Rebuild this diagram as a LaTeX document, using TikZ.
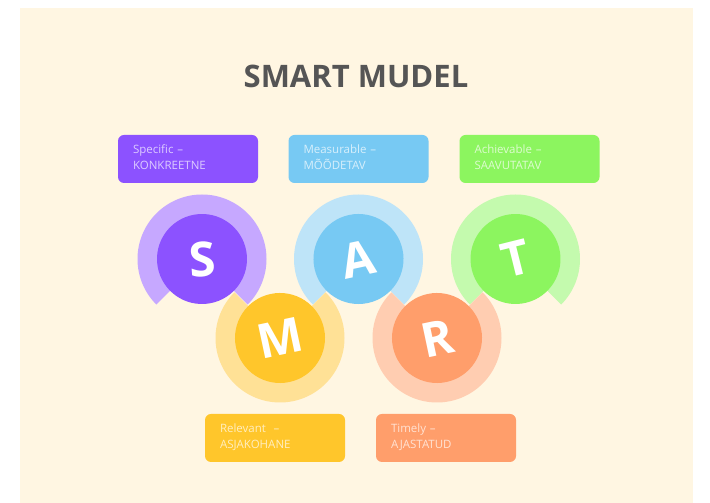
\documentclass[tikz,border=0pt]{standalone}
\usepackage{fontspec}
\usepackage{tikz}
\setmainfont{Open Sans}
\definecolor{pageCream}{HTML}{FFF6E2}
\definecolor{titleGrey}{HTML}{555555}
\definecolor{sDark}{HTML}{8C52FF}
\definecolor{sLight}{HTML}{C6A8FF}
\definecolor{aDark}{HTML}{77C9F3}
\definecolor{aLight}{HTML}{BEE4F8}
\definecolor{tDark}{HTML}{8CF55F}
\definecolor{tLight}{HTML}{C4FAAE}
\definecolor{mDark}{HTML}{FFC62B}
\definecolor{mLight}{HTML}{FFE196}
\definecolor{rDark}{HTML}{FF9E6B}
\definecolor{rLight}{HTML}{FFCDB1}
\tikzstyle{fDisk} = [circle, minimum size=90pt, inner sep=0pt, text=white, font=\bfseries\fontsize{48}{48}\selectfont]
\tikzstyle{fLabel} = [rectangle, rounded corners=6pt, minimum width=140pt, minimum height=48pt, text width=110pt, inner xsep=15pt, inner ysep=0pt, align=left, text depth=20pt, text=white, text opacity=0.7, font=\fontsize{11.5}{16}\selectfont]
\tikzstyle{fTitle} = [anchor=base, text=titleGrey, font=\bfseries\fontsize{31}{31}\selectfont]

\begin{document}
\begin{tikzpicture}[x=1pt, y=1pt, node distance=100pt]
    \fill [white] (0,0) rectangle (710,503);
    \useasboundingbox (0,0) rectangle (710,503);
    \fill [pageCream] (20,0) rectangle (693,495);

    \node (title) [fTitle] at (356,415) {SMART MUDEL};

    % centres of the five letters
    \coordinate (sCentre) at (202,244);
    \coordinate (aCentre) at (358.5,244);
    \coordinate (tCentre) at (515.5,244);
    \coordinate (mCentre) at (280,165);
    \coordinate (rCentre) at (437,165);

    % open rings, gap at the bottom for the top row and at the top for the bottom row
    \fill [sLight] (sCentre) -- ++(-45:64.5) arc[start angle=-45, end angle=225, radius=64.5] -- cycle;
    \fill [aLight] (aCentre) -- ++(-45:64.5) arc[start angle=-45, end angle=225, radius=64.5] -- cycle;
    \fill [tLight] (tCentre) -- ++(-45:64.5) arc[start angle=-45, end angle=225, radius=64.5] -- cycle;
    \fill [mLight] (mCentre) -- ++(135:64.5) arc[start angle=135, end angle=405, radius=64.5] -- cycle;
    \fill [rLight] (rCentre) -- ++(135:64.5) arc[start angle=135, end angle=405, radius=64.5] -- cycle;

    \node (sDisk) [fDisk, fill=sDark, rotate=4] at (sCentre) {S};
    \node (aDisk) [fDisk, fill=aDark, rotate=12] at (aCentre) {A};
    \node (tDisk) [fDisk, fill=tDark, rotate=14] at (tCentre) {T};
    \node (mDisk) [fDisk, fill=mDark, rotate=12] at (mCentre) {M};
    \node (rDisk) [fDisk, fill=rDark, rotate=12] at (rCentre) {R};

    \node (sBox) [fLabel, fill=sDark, above of=sCentre, xshift=-14pt] {Specific –\\KONKREETNE};
    \node (aBox) [fLabel, fill=aDark, above of=aCentre] {Measurable –\\MÕÕDETAV};
    \node (tBox) [fLabel, fill=tDark, above of=tCentre, xshift=14pt] {Achievable –\\SAAVUTATAV};
    \node (mBox) [fLabel, fill=mDark, below of=mCentre, xshift=-5pt] {Relevant~ –\\ASJAKOHANE};
    \node (rBox) [fLabel, fill=rDark, below of=rCentre, xshift=9pt] {Timely –\\AJASTATUD};
\end{tikzpicture}
\end{document}
